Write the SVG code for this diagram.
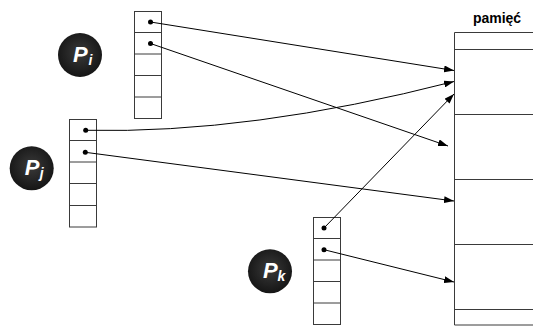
<svg xmlns="http://www.w3.org/2000/svg" width="533" height="326" viewBox="0 0 533 326">
<style>
.cell{fill:#fff;stroke:#3a3a3a;stroke-width:1}
.dot{fill:#000}
.conn{fill:none;stroke:#000;stroke-width:1}
.mem{fill:none;stroke:#3a3a3a;stroke-width:1}
.p{font-family:"Liberation Sans",Arial,sans-serif;font-weight:bold;font-style:italic;fill:#fff}
.title{font-family:"Liberation Sans",Arial,sans-serif;font-weight:bold;font-size:14px;fill:#000}
</style>
<defs>
<radialGradient id="g" cx="50%" cy="45%" r="55%">
<stop offset="0" stop-color="#3a3a3a"/>
<stop offset="1" stop-color="#151515"/>
</radialGradient>
<marker id="ah" viewBox="0 0 10 7" refX="10" refY="3.5" markerWidth="10" markerHeight="7" markerUnits="userSpaceOnUse" orient="auto">
<path d="M0,0 L10,3.5 L0,7 Z" fill="#000"/>
</marker>
</defs>

<g id="memory">
<text class="title" x="497" y="23" text-anchor="middle">pamięć</text>
<path class="mem" d="M454.5,32.5 V325 M454.5,32.5 H533 M454.5,49.5 H533 M454.5,114.5 H533 M454.5,179.5 H533 M454.5,244.5 H533 M454.5,309.5 H533 M454.5,325 H533"/>
</g>

<g id="Pi">
<circle cx="80" cy="55" r="22" fill="url(#g)"/>
<text class="p" x="73" y="62" font-size="22">P</text>
<text class="p" x="88.5" y="65" font-size="14">i</text>
<rect class="cell" x="134.5" y="11.5" width="27" height="107"/>
<path class="cell" d="M134.5,32.5 H161.5 M134.5,54 H161.5 M134.5,75.5 H161.5 M134.5,97 H161.5"/>
<circle class="dot" cx="150.5" cy="22" r="2.5"/>
<circle class="dot" cx="150.5" cy="43.5" r="2.5"/>
</g>

<g id="Pj">
<circle cx="31.7" cy="168.3" r="22" fill="url(#g)"/>
<text class="p" x="24.7" y="175.3" font-size="22">P</text>
<text class="p" x="39.7" y="178.3" font-size="14">j</text>
<rect class="cell" x="69.5" y="119.5" width="27" height="107.5"/>
<path class="cell" d="M69.5,140.5 H96.5 M69.5,162 H96.5 M69.5,183.5 H96.5 M69.5,205.5 H96.5"/>
<circle class="dot" cx="85.7" cy="130.3" r="2.5"/>
<circle class="dot" cx="85.3" cy="152.3" r="2.5"/>
</g>

<g id="Pk">
<circle cx="270" cy="271.3" r="22" fill="url(#g)"/>
<text class="p" x="263" y="278.3" font-size="22">P</text>
<text class="p" x="277.5" y="281.3" font-size="14">k</text>
<rect class="cell" x="313.5" y="217.5" width="27" height="107"/>
<path class="cell" d="M313.5,238.5 H340.5 M313.5,260 H340.5 M313.5,281.5 H340.5 M313.5,303 H340.5"/>
<circle class="dot" cx="324" cy="228" r="2.5"/>
<circle class="dot" cx="324" cy="249.7" r="2.5"/>
</g>

<g id="connectors">
<path class="conn" d="M150.5,22 L454,70.5" marker-end="url(#ah)"/>
<path class="conn" d="M150.5,43.5 L448,146" marker-end="url(#ah)"/>
<path class="conn" d="M85.7,130.3 Q250,134 454,81.5" marker-end="url(#ah)"/>
<path class="conn" d="M85.3,152.3 L454,201" marker-end="url(#ah)"/>
<path class="conn" d="M324,228 L454,94" marker-end="url(#ah)"/>
<path class="conn" d="M324,249.7 L454,282" marker-end="url(#ah)"/>
</g>
</svg>
